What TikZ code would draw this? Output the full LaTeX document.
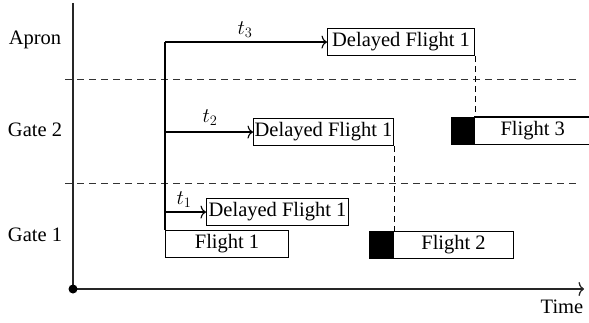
\documentclass[tikz,border=0pt]{standalone}
\usepackage{fontspec}
\setmainfont{Liberation Serif}
\usetikzlibrary{arrows.meta}
\begin{document}
\begin{tikzpicture}[x=1pt,y=-1pt, font=\fontsize{20.5}{22}\selectfont,
 box/.style={draw, line width=1.1pt, inner sep=0pt, anchor=north west, minimum height=27pt},
 blk/.style={draw, fill=black, line width=1.1pt, inner sep=0pt, anchor=north west, minimum height=27pt},
 lane/.style={dash pattern=on 7pt off 5pt, line width=1pt, draw=black!80},
 link/.style={dash pattern=on 6pt off 4pt, line width=1pt},
 arr/.style={line width=1.1pt, -{To[length=5.5pt,width=13pt]}},
 ax/.style={line width=1.3pt, draw=black!85},
 lbl/.style={inner sep=0pt},
 tl/.style={inner sep=0pt, font=\fontsize{22}{24}\selectfont}
]
\useasboundingbox (0,0) rectangle (589,323);
% lanes
\coordinate (l1a) at (65,80);  \coordinate (l1b) at (578,80);
\coordinate (l2a) at (65,184); \coordinate (l2b) at (578,184);
\draw[lane] (l1a) -- (l1b);
\draw[lane] (l2a) -- (l2b);
% lane labels
\node[lbl] (apron) at (35,40) {Apron};
\node[lbl] (gate2) at (35,130) {Gate 2};
\node[lbl] (gate1) at (35,235) {Gate 1};
% axes
\coordinate (origin) at (73,289);
\coordinate (ytop) at (73,3);
\coordinate (xend) at (584,289);
\draw[ax] (ytop) -- (origin);
\draw[ax, -{To[length=5.5pt,width=14pt]}] (origin) -- (xend);
\fill (origin) circle (4.5);
\node[lbl] (time) at (562,307) {Time};
% boxes
\node[box, minimum width=123pt] (f1) at (165,230) {Flight 1};
\node[box, minimum width=142pt] (d1) at (206,198) {Delayed Flight 1};
\node[box, minimum width=140pt] (d2) at (253,118) {Delayed Flight 1};
\node[box, minimum width=147pt] (d3) at (327,28) {Delayed Flight 1};
\node[blk, minimum width=24pt] (f2b) at (369,231) {};
\node[box, minimum width=120pt] (f2) at (393,231) {Flight 2};
\node[blk, minimum width=23pt] (f3b) at (451,117) {};
\node[inner sep=0pt, anchor=north west, minimum height=27pt, minimum width=117pt] (f3) at (474,117) {Flight 3};
\draw[line width=1.1pt] (f3.north west) -- (f3.north east) (f3.south west) -- (f3.south east);
% branch
\coordinate (branch) at (165,42);
\draw[line width=1.1pt] (branch) -- (f1.north west);
\draw[arr] (branch |- d3.west) -- (d3.west);
\draw[arr] (branch |- d2.west) -- (d2.west);
\draw[arr] (branch |- d1.west) -- (d1.west);
\node[tl] (t3) at (245,30) {$t_3$};
\node[tl] (t2) at (210,118) {$t_2$};
\node[tl] (t1) at (184,200) {$t_1$};
% links
\draw[link] (d3.south east) -- (f3b.north east);
\draw[link] (d2.south east) -- (f2b.north east);
\end{tikzpicture}
\end{document}
